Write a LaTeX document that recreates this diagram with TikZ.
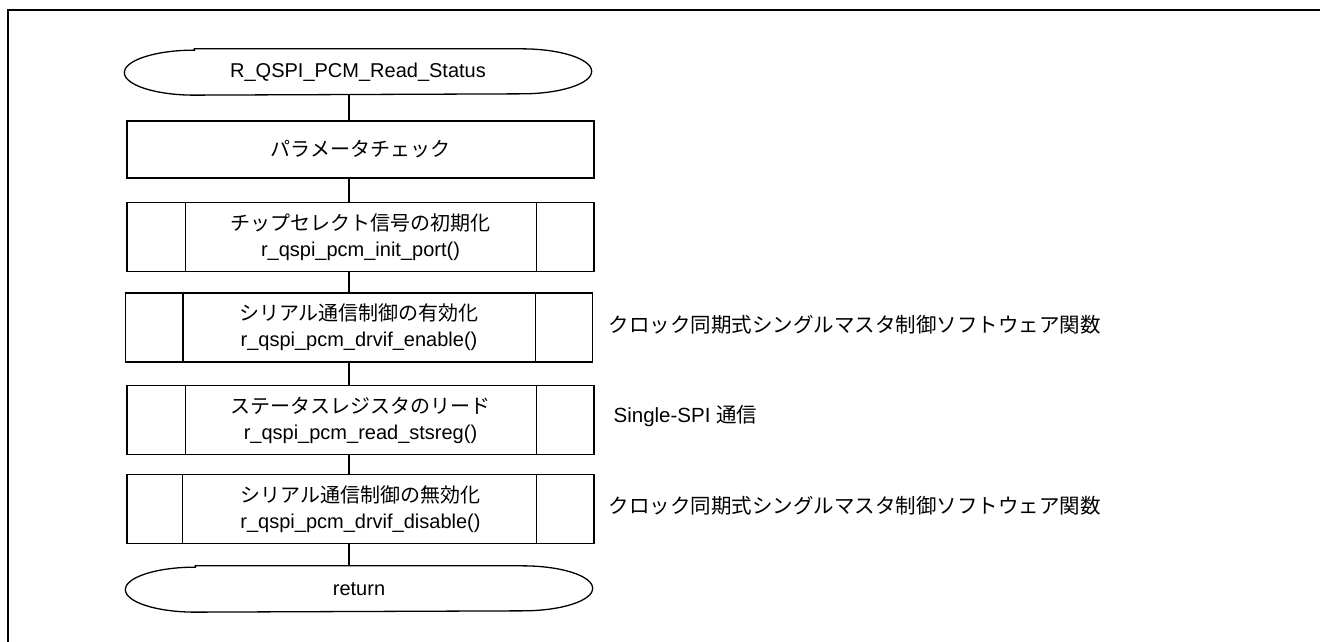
\documentclass[tikz,border=0pt]{standalone}
\usepackage{fontspec}
\setmainfont{Liberation Sans}
\newfontfamily\jp{Noto Sans CJK JP}

\begin{document}
\begin{tikzpicture}[x=1pt, y=1pt, line width=1.3pt,
  every node/.style={font=\fontsize{20}{26}\selectfont, inner sep=0pt},
  procbox/.style={draw, align=center, minimum width=467pt, minimum height=69pt},
  termbox/.style={align=center, minimum width=466pt, minimum height=45pt},
  notetext/.style={anchor=west, font=\fontsize{20.5}{26}\selectfont}]

\useasboundingbox (0,0) rectangle (1320,642);

%%%%%%%%%%%%%%%%%%%%%%%%%%%%%%%%%%%%%%%%%%%%%%%%%%%%%%%%%%%%%%%%
% Frame
%%%%%%%%%%%%%%%%%%%%%%%%%%%%%%%%%%%%%%%%%%%%%%%%%%%%%%%%%%%%%%%%

\draw[line width=2.5pt] (8,0) -- (8,632) -- (1320,632);

% x of the connector line
\coordinate (spine) at (349,0);

%%%%%%%%%%%%%%%%%%%%%%%%%%%%%%%%%%%%%%%%%%%%%%%%%%%%%%%%%%%%%%%%
% Start
%%%%%%%%%%%%%%%%%%%%%%%%%%%%%%%%%%%%%%%%%%%%%%%%%%%%%%%%%%%%%%%%

\node[termbox] (start) at (358,570) {R\_QSPI\_PCM\_Read\_Status};
\draw ([xshift=70pt]start.north west) -- ([xshift=-70pt]start.north east)
  arc[start angle=90, end angle=-90, x radius=70pt, y radius=22.5pt]
  -- ([xshift=70pt]start.south west)
  arc[start angle=270, end angle=90, x radius=70pt, y radius=22.5pt] -- cycle;

%%%%%%%%%%%%%%%%%%%%%%%%%%%%%%%%%%%%%%%%%%%%%%%%%%%%%%%%%%%%%%%%
% Steps
%%%%%%%%%%%%%%%%%%%%%%%%%%%%%%%%%%%%%%%%%%%%%%%%%%%%%%%%%%%%%%%%

\node[procbox, minimum height=57pt] (check) at (360.5,492.5) {\jp パラメータチェック};

\node[procbox] (initport) at (360.5,405) {{\jp チップセレクト信号の初期化}\\r\_qspi\_pcm\_init\_port()};
\draw ([xshift=59pt]initport.north west) -- ([xshift=59pt]initport.south west);
\draw ([xshift=-58pt]initport.north east) -- ([xshift=-58pt]initport.south east);

\node[procbox] (enable) at (359,314.5) {{\jp シリアル通信制御の有効化}\\r\_qspi\_pcm\_drvif\_enable()};
\draw ([xshift=58pt]enable.north west) -- ([xshift=58pt]enable.south west);
\draw ([xshift=-58pt]enable.north east) -- ([xshift=-58pt]enable.south east);

\node[procbox] (readsts) at (360.5,222) {{\jp ステータスレジスタのリード}\\r\_qspi\_pcm\_read\_stsreg()};
\draw ([xshift=59pt]readsts.north west) -- ([xshift=59pt]readsts.south west);
\draw ([xshift=-58pt]readsts.north east) -- ([xshift=-58pt]readsts.south east);

\node[procbox] (disable) at (360.5,133) {{\jp シリアル通信制御の無効化}\\r\_qspi\_pcm\_drvif\_disable()};
\draw ([xshift=56pt]disable.north west) -- ([xshift=56pt]disable.south west);
\draw ([xshift=-58pt]disable.north east) -- ([xshift=-58pt]disable.south east);

% Notes
\node[notetext] (note_en) at (608,317) {\jp クロック同期式シングルマスタ制御ソフトウェア関数};
\node[notetext] (note_rd) at (613,226) {Single-SPI {\jp 通信}};
\node[notetext] (note_dis) at (608,136) {\jp クロック同期式シングルマスタ制御ソフトウェア関数};

%%%%%%%%%%%%%%%%%%%%%%%%%%%%%%%%%%%%%%%%%%%%%%%%%%%%%%%%%%%%%%%%
% End
%%%%%%%%%%%%%%%%%%%%%%%%%%%%%%%%%%%%%%%%%%%%%%%%%%%%%%%%%%%%%%%%

\node[termbox] (ret) at (359,53) {return};
\draw ([xshift=70pt]ret.north west) -- ([xshift=-70pt]ret.north east)
  arc[start angle=90, end angle=-90, x radius=70pt, y radius=22.5pt]
  -- ([xshift=70pt]ret.south west)
  arc[start angle=270, end angle=90, x radius=70pt, y radius=22.5pt] -- cycle;

%%%%%%%%%%%%%%%%%%%%%%%%%%%%%%%%%%%%%%%%%%%%%%%%%%%%%%%%%%%%%%%%
% Connectors
%%%%%%%%%%%%%%%%%%%%%%%%%%%%%%%%%%%%%%%%%%%%%%%%%%%%%%%%%%%%%%%%

\draw (start.south -| spine) -- (check.north -| spine);
\draw (check.south -| spine) -- (initport.north -| spine);
\draw (initport.south -| spine) -- (enable.north -| spine);
\draw (enable.south -| spine) -- (readsts.north -| spine);
\draw (readsts.south -| spine) -- (disable.north -| spine);
\draw (disable.south -| spine) -- (ret.north -| spine);

\end{tikzpicture}
\end{document}
